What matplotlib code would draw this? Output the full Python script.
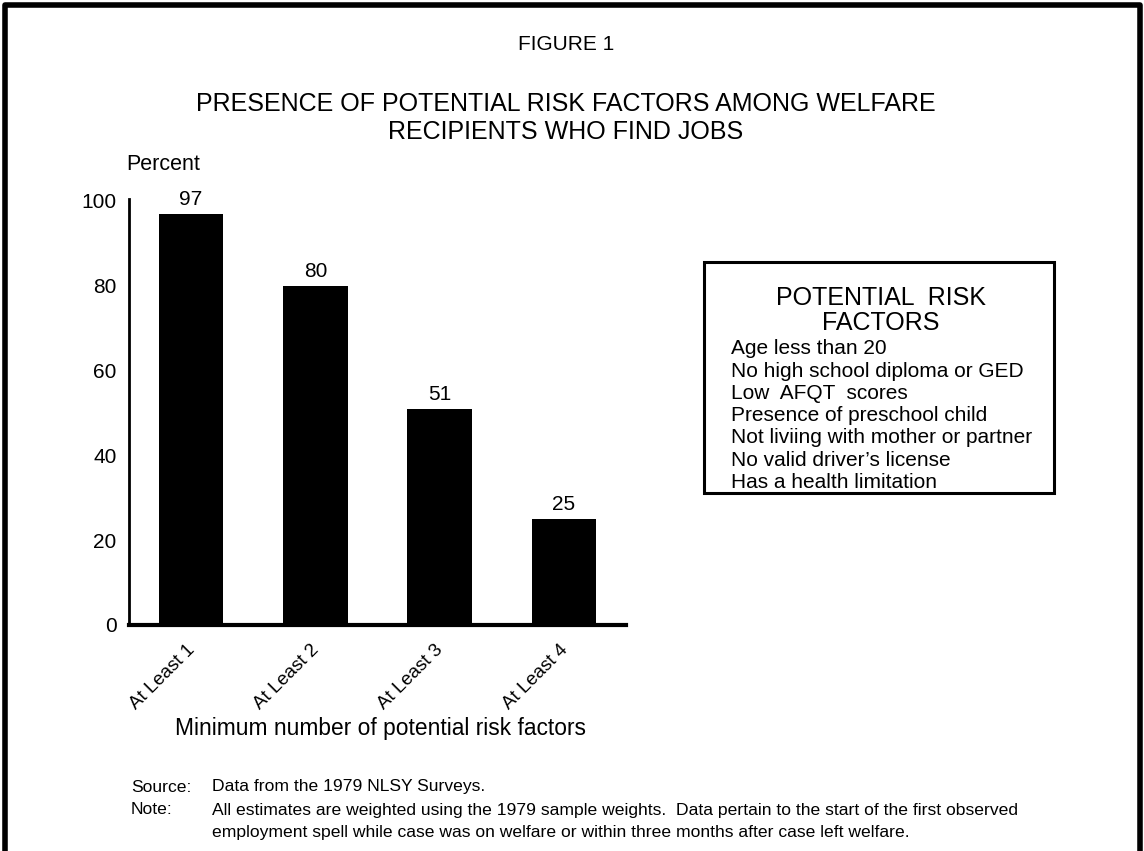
import matplotlib.pyplot as plt
from matplotlib.lines import Line2D
from matplotlib.patches import Rectangle

categories = ["At Least 1", "At Least 2", "At Least 3", "At Least 4"]
percents = [97, 80, 51, 25]
y_ticks = [0, 20, 40, 60, 80, 100]
risk_factors = [
    "Age less than 20",
    "No high school diploma or GED",
    "Low  AFQT  scores",
    "Presence of preschool child",
    "Not liviing with mother or partner",
    "No valid driver\u2019s license",
    "Has a health limitation",
]

plt.rcParams["font.family"] = ["Liberation Sans", "DejaVu Sans"]

fig = plt.figure(figsize=(11.44, 8.51), dpi=100)
W, H = 1144, 851


def fx(px):
    return px / W


def fy(py):
    return 1 - py / H


# outer frame (no bottom edge)
fig.add_artist(Line2D([fx(5), fx(5), fx(1140), fx(1140)], [0, fy(5), fy(5), 0],
                      color="black", lw=4, transform=fig.transFigure))

# titles
fig.text(fx(566), fy(45), "FIGURE 1", ha="center", va="center", fontsize=15)
fig.text(fx(566), fy(104), "PRESENCE OF POTENTIAL RISK FACTORS AMONG WELFARE",
         ha="center", va="center", fontsize=18)
fig.text(fx(566), fy(132), "RECIPIENTS WHO FIND JOBS",
         ha="center", va="center", fontsize=18)
fig.text(fx(126), fy(165), "Percent", ha="left", va="center", fontsize=15.5)

# bar chart
ax = fig.add_axes([fx(129), fy(625), fx(626) - fx(129), fy(201) - fy(625)])
x = list(range(len(categories)))
ax.bar(x, percents, width=0.52, color="black")
for xi, v in zip(x, percents):
    ax.text(xi, v + 1.2, str(v), ha="center", va="bottom", fontsize=15)
ax.set_xlim(-0.5, 3.5)
ax.set_ylim(0, 100)
ax.set_yticks(y_ticks)
ax.set_yticklabels([str(t) for t in y_ticks], fontsize=15)
ax.tick_params(axis="y", length=0, pad=9)
ax.set_xticks([])
for side in ["top", "right"]:
    ax.spines[side].set_visible(False)
ax.spines["left"].set_linewidth(2)
ax.spines["bottom"].set_linewidth(3)
ax.spines["left"].set_bounds(0, 100.5)

for xi, lab in zip(x, categories):
    ax.text(xi - 0.04, -3.8, lab, rotation=45, ha="right", va="top",
            fontsize=13.5, rotation_mode="anchor")

fig.text(fx(175), fy(729), "Minimum number of potential risk factors",
         ha="left", va="center", fontsize=16.4)

# legend box
fig.add_artist(Rectangle((fx(704), fy(493)), fx(1054) - fx(704), fy(262) - fy(493),
                         fill=False, ec="black", lw=2.2, transform=fig.transFigure))
fig.text(fx(881), fy(298), "POTENTIAL  RISK", ha="center", va="center", fontsize=18)
fig.text(fx(881), fy(323), "FACTORS", ha="center", va="center", fontsize=18)
for i, item in enumerate(risk_factors):
    fig.text(fx(731), fy(349 + i * 22.2), item, ha="left", va="center", fontsize=15)

# source and note
notes = [
    ("Source:", "Data from the 1979 NLSY Surveys."),
    ("Note:", "All estimates are weighted using the 1979 sample weights.  Data pertain to the start of the first observed"),
    ("", "employment spell while case was on welfare or within three months after case left welfare."),
]
for i, (a, b) in enumerate(notes):
    y = fy(787 + i * 23)
    fig.text(fx(131), y, a, ha="left", va="center", fontsize=12.6)
    fig.text(fx(212), y, b, ha="left", va="center", fontsize=12.6)

fig.savefig("out.png", dpi=100)
